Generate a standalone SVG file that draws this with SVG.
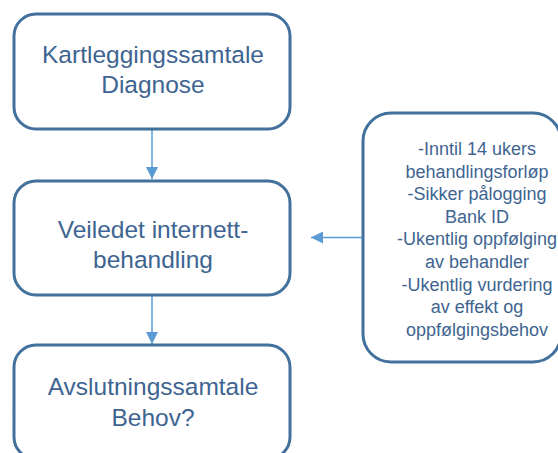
<svg xmlns="http://www.w3.org/2000/svg" width="558" height="453" viewBox="0 0 558 453">
<style>
.box{fill:#fff;stroke:#41719C;stroke-width:3}
.t{font-family:"Liberation Sans",Arial,sans-serif;fill:#3E6491;text-anchor:middle}
.big{font-size:24.5px}
.small{font-size:18px}
.conn{stroke:#5B9BD5;stroke-width:1.5;fill:none}
</style>
<defs>
<marker id="ah" markerWidth="12" markerHeight="12" refX="12" refY="6" orient="auto" markerUnits="userSpaceOnUse">
<path d="M0,0 L12,6 L0,12 Z" fill="#5B9BD5"/>
</marker>
</defs>
<rect width="558" height="453" fill="#fff"/>
<g id="connectors">
<line class="conn" x1="152" y1="130" x2="152" y2="179" marker-end="url(#ah)"/>
<line class="conn" x1="152" y1="296" x2="152" y2="344" marker-end="url(#ah)"/>
<line class="conn" x1="362" y1="237.5" x2="311" y2="237.5" marker-end="url(#ah)"/>
</g>
<g id="node-kartlegging">
<rect class="box" x="14" y="14" width="276" height="115" rx="22"/>
<text class="t big" x="153" y="63">Kartleggingssamtale</text>
<text class="t big" x="153" y="93">Diagnose</text>
</g>
<g id="node-veiledet">
<rect class="box" x="14" y="181" width="276" height="114" rx="22"/>
<text class="t big" x="153" y="238">Veiledet internett-</text>
<text class="t big" x="153" y="268">behandling</text>
</g>
<g id="node-avslutning">
<rect class="box" x="14" y="345" width="276" height="114" rx="22"/>
<text class="t big" x="153" y="395">Avslutningssamtale</text>
<text class="t big" x="153" y="426">Behov?</text>
</g>
<g id="node-info">
<rect class="box" x="363" y="113" width="198" height="249" rx="28"/>
<text class="t small" x="477" y="155">-Inntil 14 ukers</text>
<text class="t small" x="477" y="177.6">behandlingsforløp</text>
<text class="t small" x="477" y="200.2">-Sikker pålogging</text>
<text class="t small" x="477" y="222.8">Bank ID</text>
<text class="t small" x="477" y="245.4">-Ukentlig oppfølging</text>
<text class="t small" x="477" y="268">av behandler</text>
<text class="t small" x="477" y="290.6">-Ukentlig vurdering</text>
<text class="t small" x="477" y="313.2">av effekt og</text>
<text class="t small" x="477" y="335.8">oppfølgingsbehov</text>
</g>
</svg>
